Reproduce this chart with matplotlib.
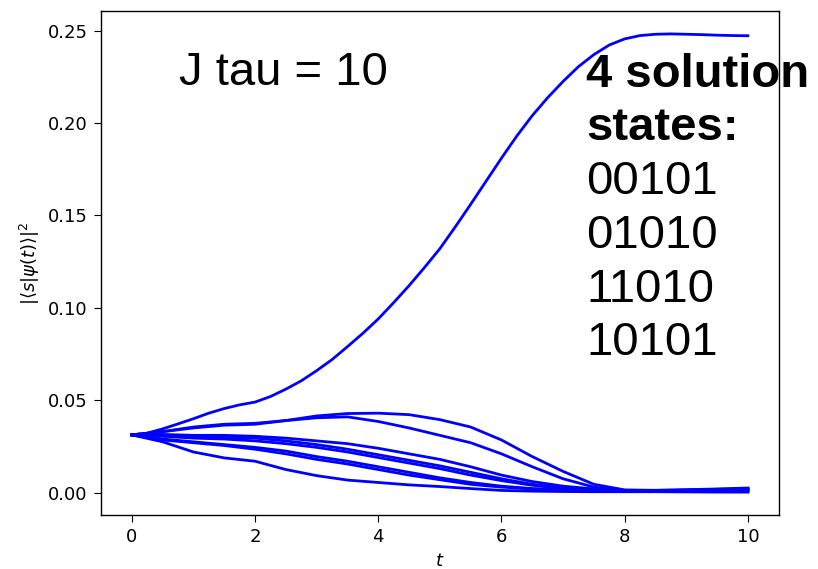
import numpy as np
import matplotlib
matplotlib.use("Agg")
import matplotlib.pyplot as plt

# time grid (t = 0 ... 10, step 0.5)
t = [0.0, 0.5, 1.0, 1.5, 2.0, 2.5, 3.0, 3.5, 4.0, 4.5, 5.0,
     5.5, 6.0, 6.5, 7.0, 7.5, 8.0, 8.5, 9.0, 9.5, 10.0]

# finer grid for the fast-rising solution curve (step 0.25)
t_solution = [0.0, 0.25, 0.5, 0.75, 1.0, 1.25, 1.5, 1.75, 2.0, 2.25, 2.5,
              2.75, 3.0, 3.25, 3.5, 3.75, 4.0, 4.25, 4.5, 4.75, 5.0,
              5.25, 5.5, 5.75, 6.0, 6.25, 6.5, 6.75, 7.0, 7.25, 7.5,
              7.75, 8.0, 8.25, 8.5, 8.75, 9.0, 9.25, 9.5, 9.75, 10.0]

# the 4 solution states (they sit on top of each other)
solution = [0.03125, 0.0322, 0.0345, 0.0372, 0.040, 0.043, 0.0455, 0.0475, 0.049, 0.052, 0.056,
            0.0605, 0.066, 0.072, 0.079, 0.0862, 0.094, 0.1028, 0.112, 0.1218, 0.132,
            0.1438, 0.156, 0.1685, 0.181, 0.193, 0.204, 0.2137, 0.2225, 0.2305, 0.237,
            0.2422, 0.2455, 0.2473, 0.248, 0.2482, 0.248, 0.2478, 0.2475, 0.2473, 0.2472]

# non-solution states (representative curves, several states share each)
upper_a = [0.03125, 0.033, 0.0355, 0.037, 0.0375, 0.039, 0.0415, 0.0428, 0.043, 0.0422, 0.0395,
           0.0355, 0.0285, 0.0195, 0.0115, 0.0045, 0.0015, 0.0012, 0.0014, 0.0018, 0.0022]
upper_b = [0.03125, 0.033, 0.035, 0.0365, 0.037, 0.0390, 0.0405, 0.041, 0.0385, 0.0350, 0.031,
           0.027, 0.021, 0.014, 0.0075, 0.003, 0.001, 0.0011, 0.0013, 0.0016, 0.002]
mid_a = [0.03125, 0.0315, 0.031, 0.031, 0.0305, 0.0295, 0.028, 0.0265, 0.024, 0.021, 0.018,
         0.014, 0.0095, 0.006, 0.0035, 0.002, 0.0012, 0.0013, 0.0016, 0.002, 0.0025]
mid_b = [0.03125, 0.031, 0.0305, 0.030, 0.0295, 0.028, 0.026, 0.0235, 0.0205, 0.0175, 0.0145,
         0.011, 0.0075, 0.0045, 0.0025, 0.0015, 0.001, 0.0011, 0.0013, 0.0016, 0.0019]
mid_c = [0.03125, 0.0305, 0.0295, 0.029, 0.028, 0.0265, 0.0245, 0.022, 0.019, 0.016, 0.013,
         0.0095, 0.0065, 0.004, 0.0022, 0.0013, 0.001, 0.001, 0.0011, 0.0012, 0.0014]
low_a = [0.03125, 0.029, 0.0275, 0.026, 0.0245, 0.0225, 0.0195, 0.017, 0.014, 0.011, 0.008,
         0.0055, 0.0035, 0.0022, 0.0015, 0.001, 0.0008, 0.0008, 0.0008, 0.0009, 0.001]
low_b = [0.03125, 0.0285, 0.027, 0.0255, 0.0235, 0.021, 0.018, 0.0155, 0.0125, 0.0095, 0.007,
         0.0045, 0.003, 0.002, 0.0013, 0.0009, 0.0007, 0.0007, 0.0007, 0.0007, 0.0007]
lowest = [0.03125, 0.0275, 0.022, 0.0188, 0.017, 0.0125, 0.0092, 0.0068, 0.0055, 0.0042, 0.0033,
          0.0022, 0.0012, 0.0008, 0.0006, 0.0005, 0.0005, 0.0005, 0.0004, 0.0003, 0.0003]

others = [upper_a, upper_b, mid_a, mid_b, mid_c, low_a, low_b, lowest]

label_left = 'J tau = 10'
label_lines = [('4 solution', 'bold'), ('states:', 'bold'),
               ('00101', 'normal'), ('01010', 'normal'),
               ('11010', 'normal'), ('10101', 'normal')]

plt.rcParams.update({
    'font.size': 13,
    'xtick.major.size': 5,
    'ytick.major.size': 5,
    'xtick.major.pad': 4.5,
    'ytick.major.pad': 4.5,
    'axes.linewidth': 1.0,
})

fig = plt.figure(figsize=(8.18, 5.69), dpi=100)
ax = fig.add_axes([0.1235, 0.0949, 0.8285, 0.8858])

for c in others:
    ax.plot(t, c, color='blue', linewidth=2)
ax.plot(t_solution, solution, color='blue', linewidth=2)

ax.set_xlabel(r'$t$')
ax.set_ylabel(r'$|\langle s|\psi(t)\rangle|^2$')

W, H = 818, 569
fig.text(179 / W, 1 - 85 / H, label_left, fontsize=34,
         family='Liberation Sans', va='baseline', ha='left')
baselines = [87, 140, 194, 248, 302, 355]
for (txt, wt), by in zip(label_lines, baselines):
    fig.text(586 / W, 1 - by / H, txt, fontsize=34, fontweight=wt,
             family='Liberation Sans', va='baseline', ha='left')

fig.savefig('out.png', dpi=100)
